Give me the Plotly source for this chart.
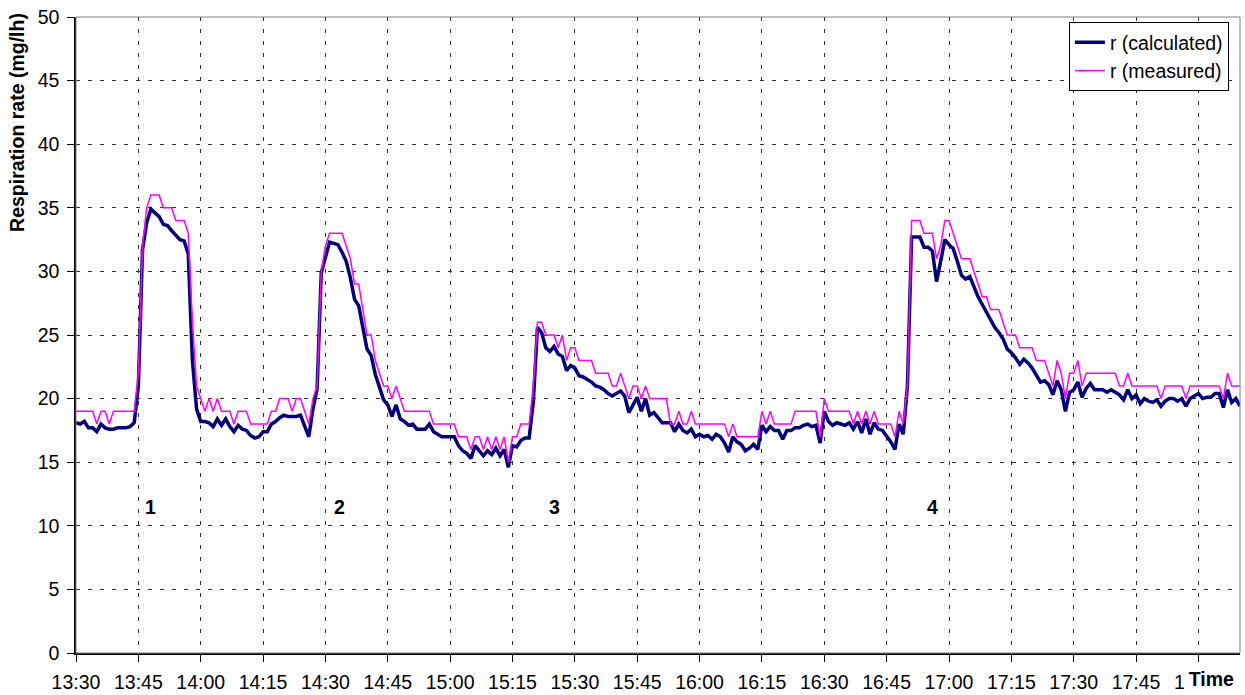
import pandas as pd
import plotly.graph_objects as go

start_time = "2000-01-01 13:30"

calculated = [
    18.1, 18.0, 18.2, 17.7, 17.7, 17.4, 18.0, 17.7, 17.6, 17.6,
    17.7, 17.7, 17.7, 17.8, 18.1, 21.0, 31.7, 33.8, 34.9, 34.6,
    34.3, 33.7, 33.6, 33.2, 32.8, 32.5, 32.4, 31.4, 23.0, 19.2,
    18.2, 18.2, 18.1, 17.8, 18.4, 17.9, 18.4, 17.8, 17.4, 17.9,
    17.6, 17.5, 17.1, 16.9, 17.0, 17.4, 17.4, 18.0, 18.2, 18.5,
    18.7, 18.6, 18.6, 18.6, 18.7, 17.9, 17.0, 19.2, 20.8, 29.9,
    31.2, 32.3, 32.2, 32.1, 31.5, 30.8, 29.5, 27.8, 27.3, 25.7,
    23.9, 23.4, 21.9, 20.9, 19.9, 19.5, 18.6, 19.5, 18.4, 18.2,
    17.9, 18.0, 17.6, 17.6, 17.6, 18.0, 17.4, 17.2, 17.0, 17.0,
    17.0, 17.0, 16.3, 15.9, 15.7, 15.3, 16.3, 15.9, 15.5, 15.9,
    15.6, 16.1, 15.5, 16.0, 14.6, 16.3, 16.2, 16.7, 16.9, 16.9,
    19.7, 25.6, 25.2, 24.0, 23.7, 24.1, 23.5, 23.3, 22.2, 22.6,
    22.4, 21.8, 21.7, 21.5, 21.3, 21.0, 20.9, 20.7, 20.4, 20.2,
    20.4, 20.6, 20.2, 18.9, 19.5, 20.1, 19.0, 20.0, 18.7, 18.9,
    18.5, 18.1, 18.1, 18.1, 17.4, 18.0, 17.5, 17.3, 17.6, 17.0,
    17.2, 17.0, 17.1, 16.8, 17.2, 17.0, 16.5, 15.8, 17.0, 16.6,
    16.4, 15.9, 16.1, 16.4, 16.0, 17.9, 17.4, 17.8, 17.5, 17.5,
    16.8, 17.5, 17.5, 17.7, 17.7, 17.9, 18.0, 17.8, 17.9, 16.5,
    19.0, 18.2, 17.9, 18.1, 18.0, 17.9, 18.1, 17.6, 18.2, 17.3,
    18.4, 17.2, 18.1, 17.6, 17.5, 17.1, 16.6, 16.0, 18.0, 17.2,
    21.0, 32.7, 32.7, 32.7, 31.9, 31.9, 31.6, 29.2, 30.8, 32.5,
    32.1, 31.8, 30.8, 29.7, 29.4, 29.6, 28.8, 28.0, 27.4, 26.8,
    26.1, 25.6, 25.2, 24.7, 23.9, 23.6, 23.2, 22.7, 23.1, 22.8,
    22.4, 21.8, 21.3, 21.4, 21.1, 20.3, 21.4, 20.7, 19.0, 20.5,
    20.7, 21.3, 20.1, 20.8, 21.2, 20.7, 20.7, 20.7, 20.5, 20.7,
    20.5, 20.3, 19.9, 20.7, 20.0, 20.3, 19.6, 20.0, 19.8, 19.7,
    19.9, 19.4, 19.8, 20.0, 20.0, 19.8, 20.0, 19.4, 20.0, 20.2,
    20.4, 20.0, 20.1, 20.1, 20.4, 20.4, 19.3, 20.7, 19.7, 20.0, 19.4,
]

measured = [
    19, 19, 19, 19, 19, 18, 19, 19, 18, 19,
    19, 19, 19, 19, 19, 22, 32, 35, 36, 36,
    36, 35, 35, 35, 34, 34, 34, 33, 26, 21,
    20, 19, 20, 19, 20, 19, 19, 19, 18, 19,
    19, 19, 18, 18, 18, 18, 18, 19, 19, 20,
    20, 20, 19, 20, 20, 19, 18, 20, 21, 30,
    32, 33, 33, 33, 33, 32, 31, 29, 29, 27,
    25, 25, 23, 22, 21, 21, 20, 21, 20, 19,
    19, 19, 19, 19, 19, 19, 18, 18, 18, 18,
    18, 18, 17, 17, 17, 16, 17, 17, 16, 17,
    16, 17, 16, 17, 15, 17, 17, 18, 18, 18,
    21, 26, 26, 25, 25, 25, 24, 25, 23, 24,
    24, 23, 23, 23, 23, 22, 22, 22, 22, 21,
    21, 22, 21, 20, 21, 21, 20, 21, 20, 20,
    20, 20, 20, 18, 18, 19, 18, 18, 19, 18,
    18, 18, 18, 18, 18, 18, 18, 17, 18, 17,
    17, 17, 17, 17, 17, 19, 18, 19, 18, 18,
    18, 18, 18, 19, 19, 19, 19, 19, 19, 17,
    20, 19, 19, 19, 19, 19, 19, 18, 19, 18,
    19, 18, 19, 18, 18, 18, 18, 17, 19, 18,
    21, 34, 34, 34, 33, 33, 33, 31, 32, 34,
    34, 33, 32, 31, 31, 31, 30, 29, 28, 28,
    27, 27, 27, 26, 25, 25, 25, 24, 24, 24,
    24, 23, 23, 23, 22, 21, 23, 22, 20, 22,
    22, 23, 21, 22, 22, 22, 22, 22, 22, 22,
    22, 21, 21, 22, 21, 21, 21, 21, 21, 21,
    21, 20, 21, 21, 21, 21, 21, 20, 21, 21,
    21, 21, 21, 21, 21, 21, 20, 22, 21, 21, 21,
]

event_labels = ["1", "2", "3", "4"]
event_minutes = [18, 63.5, 115, 206]
event_level = 11.5

times = pd.date_range(start_time, periods=len(calculated), freq="1min")
t0 = pd.Timestamp(start_time)

font_family = "Liberation Sans, Arial, sans-serif"
fs = 19.5

fig = go.Figure()
fig.add_trace(go.Scatter(
    x=times, y=calculated, mode="lines", name="r (calculated)",
    line=dict(color="#000080", width=3.5),
))
fig.add_trace(go.Scatter(
    x=times, y=measured, mode="lines", name="r (measured)",
    line=dict(color="#FF00FF", width=1.5),
))

annotations = []
for lab, m in zip(event_labels, event_minutes):
    annotations.append(dict(
        x=t0 + pd.Timedelta(minutes=m), y=event_level, xref="x", yref="y",
        text="<b>" + lab + "</b>", showarrow=False,
        font=dict(size=fs, color="black", family=font_family),
    ))
annotations.append(dict(
    x=-0.0507, y=0.835, xref="paper", yref="paper", textangle=-90,
    text="<b>Respiration rate (mg/lh)</b>", showarrow=False,
    xanchor="center", yanchor="middle",
    font=dict(size=fs, color="black", family=font_family),
))
annotations.append(dict(
    x=0.9966, y=-0.021, xref="paper", yref="paper", xanchor="right", yanchor="top",
    text="<b>Time</b>", showarrow=False, bgcolor="white", borderpad=1,
    width=48, align="right",
    font=dict(size=fs, color="black", family=font_family),
))

fig.update_layout(
    width=1245, height=695,
    margin=dict(l=76, r=5, t=17, b=42),
    paper_bgcolor="white", plot_bgcolor="white",
    font=dict(family=font_family, size=fs, color="black"),
    showlegend=True,
    legend=dict(
        x=0.853, y=0.992, xanchor="left", yanchor="top",
        bgcolor="white", bordercolor="black", borderwidth=1,
        font=dict(size=fs, family=font_family, color="black"),
        tracegroupgap=0, itemwidth=30,
    ),
    annotations=annotations,
    shapes=[dict(type="rect", xref="paper", yref="paper", x0=0, y0=0, x1=1, y1=1,
                 line=dict(color="#808080", width=1), layer="above")],
)

fig.update_xaxes(
    type="date", automargin=False,
    range=[t0, t0 + pd.Timedelta(minutes=280)],
    tickformat="%H:%M", dtick=15 * 60 * 1000, tick0=t0,
    showgrid=True, gridcolor="#303030", gridwidth=1, griddash="4px,8px",
    showline=True, linecolor="black", linewidth=1.5,
    ticks="outside", ticklen=7, tickcolor="black",
    ticklabelstandoff=4,
    tickfont=dict(size=fs, family=font_family, color="black"),
    zeroline=False,
)
fig.update_yaxes(
    range=[0, 50], dtick=5, tick0=0, automargin=False,
    showgrid=True, gridcolor="#303030", gridwidth=1, griddash="4px,8px",
    showline=True, linecolor="black", linewidth=1.5,
    ticks="outside", ticklen=7, tickcolor="black",
    ticklabelstandoff=4,
    tickfont=dict(size=fs, family=font_family, color="black"),
    zeroline=False,
)

fig.write_html("out.html")
